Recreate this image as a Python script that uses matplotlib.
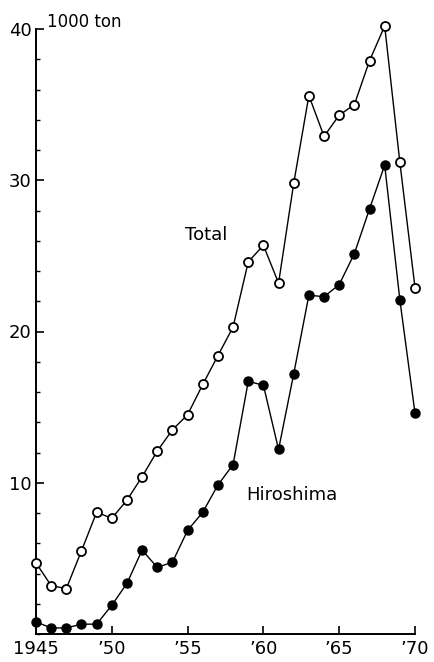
import matplotlib.pyplot as plt
from matplotlib.ticker import MultipleLocator

years = list(range(1945, 1971))
total = [4.7, 3.2, 3.0, 5.5, 8.05, 7.65, 8.85, 10.4, 12.1, 13.5, 14.5, 16.5, 18.4,
         20.3, 24.6, 25.7, 23.2, 29.8, 35.6, 32.9, 34.3, 35.0, 37.9, 40.2, 31.2, 22.9]
hiroshima = [0.8, 0.4, 0.4, 0.65, 0.65, 1.9, 3.35, 5.55, 4.4, 4.75, 6.85, 8.05, 9.85,
             11.2, 16.7, 16.45, 12.2, 17.2, 22.4, 22.3, 23.1, 25.15, 28.1, 31.0, 22.1, 14.6]
xtick_pos = [1945, 1950, 1955, 1960, 1965, 1970]
xtick_labels = ['1945', '’50', '’55', '’60', '’65', '’70']

fig = plt.figure(figsize=(4.35, 6.62), dpi=100)
ax = fig.add_axes([36 / 435, 28 / 662, 379 / 435, 605 / 662])

ax.plot(years, total, '-o', color='black', lw=1.0, ms=6.5, mfc='white', mec='black',
        mew=1.3, clip_on=False, zorder=3)
ax.plot(years, hiroshima, '-o', color='black', lw=1.0, ms=6.5, mfc='black', mec='black',
        clip_on=False, zorder=3)

ax.set_xlim(1945, 1970)
ax.set_ylim(0, 40)
ax.set_xticks(xtick_pos)
ax.set_xticklabels(xtick_labels)
ax.set_yticks([10, 20, 30, 40])
ax.yaxis.set_minor_locator(MultipleLocator(2))

for s in ['top', 'right']:
    ax.spines[s].set_visible(False)
for s in ['left', 'bottom']:
    ax.spines[s].set_linewidth(1.4)

ax.tick_params(axis='both', which='major', direction='in', length=6, width=1.2,
               labelsize=13, pad=3)
ax.tick_params(axis='y', which='minor', direction='in', length=3, width=1.0)
ax.tick_params(axis='x', which='major', pad=4)

ax.text(1945.75, 40.1, '1000 ton', fontsize=12, ha='left', va='baseline')
ax.text(1954.8, 26.4, 'Total', fontsize=13, ha='left', va='center')
ax.text(1958.9, 9.2, 'Hiroshima', fontsize=13, ha='left', va='center')

fig.savefig('out.png', dpi=100)
